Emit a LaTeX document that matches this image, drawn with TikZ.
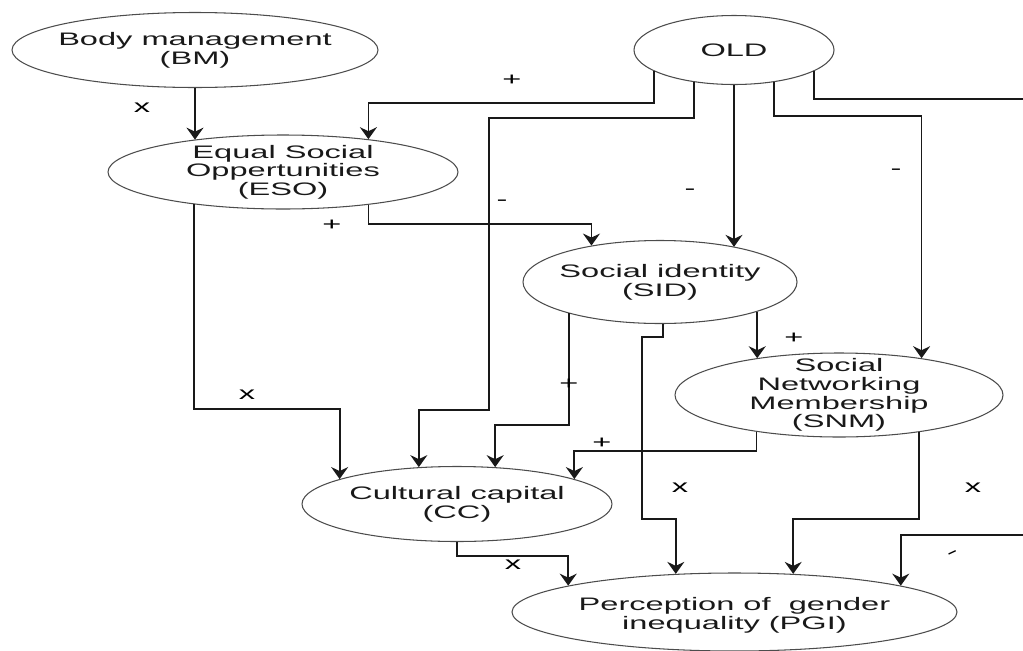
\documentclass[tikz,border=0pt]{standalone}
\usepackage{fontspec}
\setmainfont{Liberation Sans}[FakeStretch=1.8]
\usetikzlibrary{shapes.geometric}
\usetikzlibrary{arrows.meta}
\tikzset{
    ell/.style 2 args = {ellipse, draw=black!70, line width=0.6pt, inner sep=0pt, minimum width=#1*0.2mm, minimum height=#2*0.2mm},
    txt/.style = {align=center, text=black!90, inner sep=0pt},
    sign/.style = {text=black, inner sep=0pt},
    edgen/.style = {-{Stealth[length=2.4mm,width=3.4mm,inset=0.8mm]}, line width=1pt, black!90},
    edgeo/.style = {line width=1pt, black!90}, % leaves the picture
}

\begin{document}
\begin{tikzpicture}[x=0.2mm, y=-0.2mm, font=\fontsize{10.3}{10.6}\selectfont]
\useasboundingbox (0,0) rectangle (1023,650);

\node[ell={366}{75}, label={[txt]center:Body management\\(BM)}] at (195, 50) (BM) {};
\node[ell={200}{69}, label={[txt]center:OLD}] at (734, 50) (OLD) {};
\node[ell={350}{74}, label={[txt]center:Equal Social\\Oppertunities\\(ESO)}] at (283, 172) (ESO) {};
\node[ell={274}{83}, label={[txt]center:Social identity\\(SID)}] at (660, 282) (SID) {};
\node[ell={328}{84}, label={[txt]center:Social\\Networking\\Membership\\(SNM)}] at (839, 395) (SNM) {};
\node[ell={310}{75}, label={[txt]center:Cultural capital\\(CC)}] at (457, 504) (CC) {};
\node[ell={445}{78}, label={[txt, yshift=-0.6mm]center:Perception of~ gender\\inequality (PGI)}] at (734.5, 612) (PGI) {};
\coordinate (outR) at (1023, 99);
\coordinate (inR) at (1023, 535);
%
\draw[edgen] (BM.south) -- (BM.south |- ESO.160);
\draw[edgen] (OLD.195) -- (OLD.195 |- 0,103) -| (ESO.21);
\draw[edgen] (OLD.219) -- (OLD.219 |- 0,118) -| (489,410) -| (CC.136);
\draw[edgen] (OLD.south) -- (OLD.south |- SID.25);
\draw[edgen] (OLD.321) -- (OLD.321 |- 0,116) -| (SNM.24);
\draw[edgeo] (OLD.345) |- (outR);
\draw[edgen] (inR) -| (PGI.9);
\draw[edgen] (ESO.339) -- (ESO.339 |- 0,224) -| (SID.152);
\draw[edgen] (ESO.200) -- (ESO.200 |- 0,409) -| (CC.168);
\draw[edgen] (SID.199) -- (SID.199 |- 0,425) -| (CC.44);
\draw[edgen] (SID.274) -- (SID.274 |- 0,337) -| (642,519) -| (PGI.147);
\draw[edgen] (SID.343) -- (SID.343 |- SNM.156);
\draw[edgen] (SNM.204) -- (SNM.204 |- 0,451) -| (CC.12);
\draw[edgen] (SNM.335) -- (SNM.335 |- 0,519) -| (PGI.33);
\draw[edgen] (CC.south) -- (CC.south |- 0,556) -| (PGI.171);
%
\node[sign] at (142, 108) (sBM) {x};
\node[sign] at (512, 80) (sOE) {+};
\node[sign] at (502, 203) (sOC) {-};
\node[sign] at (690, 192) (sOS) {-};
\node[sign] at (896, 172) (sON) {-};
\node[sign] at (332, 225) (sES) {+};
\node[sign] at (247, 395) (sEC) {x};
\node[sign] at (569, 384) (sSC) {+};
\node[sign] at (680, 488) (sSP) {x};
\node[sign] at (794, 338) (sSN) {+};
\node[sign] at (602, 443) (sNC) {+};
\node[sign] at (973, 488) (sNP) {x};
\node[sign] at (513, 565) (sCP) {x};
\node[sign, rotate=25] at (953, 555) (sOP) {-};

\end{tikzpicture}
\end{document}
